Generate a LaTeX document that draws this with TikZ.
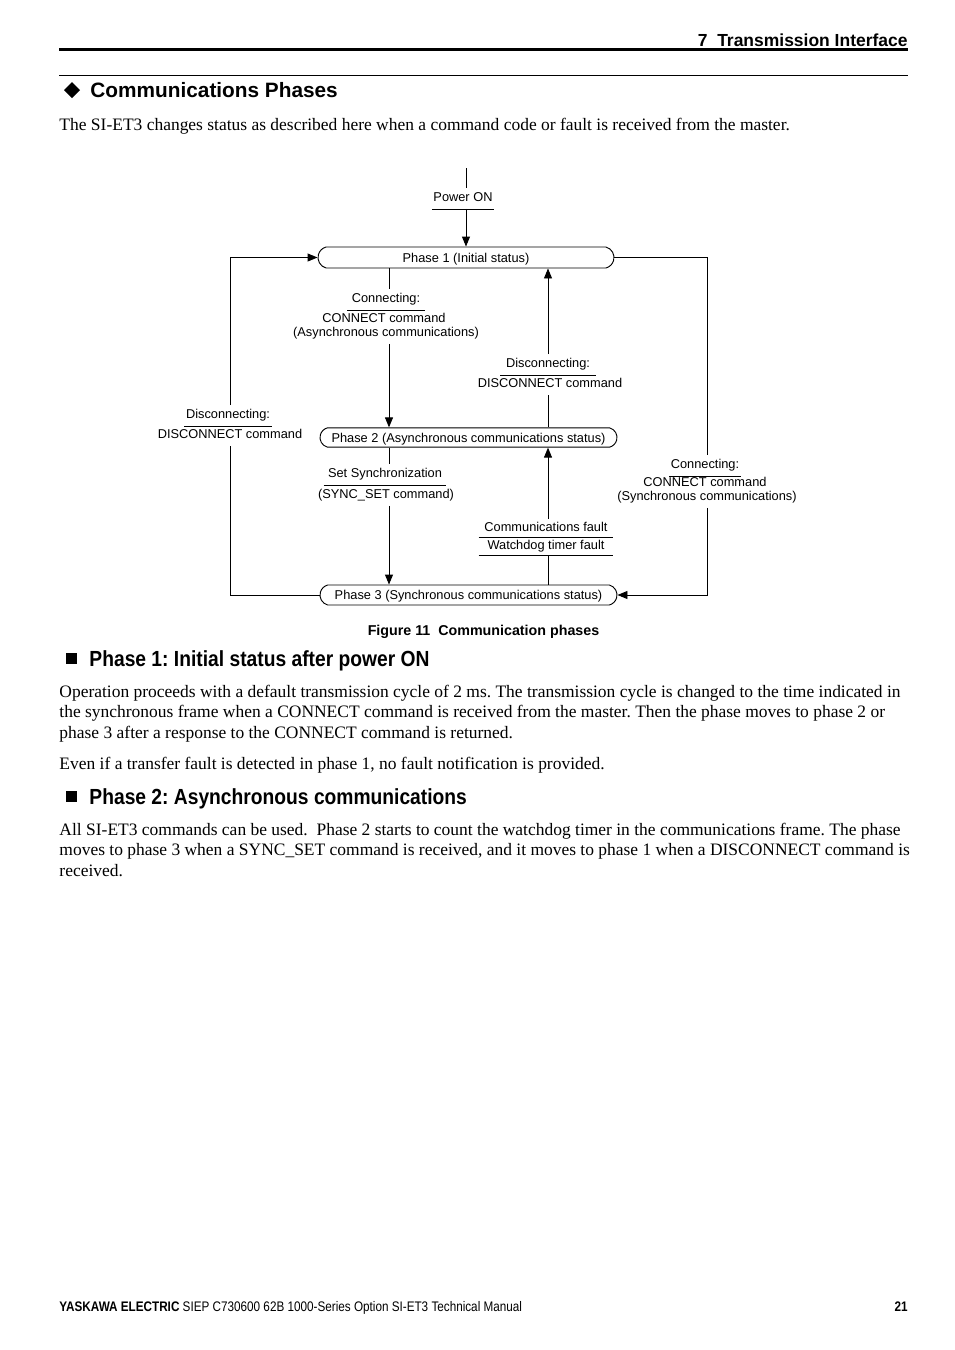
\documentclass[tikz,border=0pt]{standalone}
\usepackage{fontspec}
\setmainfont{Liberation Serif}
\setsansfont{Liberation Sans}
\newfontfamily\nsans[FakeStretch=0.88]{Liberation Sans}
\newfontfamily\fsans[FakeStretch=0.845]{Liberation Sans}
\usetikzlibrary{shapes.misc,arrows.meta}
\newcommand\dfont{\sffamily\fontsize{9.6}{11}\selectfont}
\newcommand\bodyfont{\rmfamily\fontsize{13.1}{15}\selectfont\frenchspacing}
\frenchspacing
\begin{document}
\begin{tikzpicture}[x=0.75pt,y=-0.75pt,line width=0.7pt,
  arr/.style={-{Triangle[length=7.5pt,width=6pt]}},
  phasebox/.style={draw, rounded rectangle, rounded rectangle arc length=150, inner sep=0pt, text height=8pt, text depth=1.1pt, font=\dfont},
  lbl/.style={inner xsep=0pt, inner ysep=3pt, text height=7pt, text depth=2pt, font=\dfont},
  ul/.style={lbl, inner xsep=#1},
  body/.style={anchor=base west, inner sep=0pt, font=\bodyfont},
  head/.style={anchor=base west, inner sep=0pt, font=\sffamily\bfseries\fontsize{15.6}{18}\selectfont},
  subhead/.style={anchor=base west, inner sep=0pt, font=\nsans\bfseries\fontsize{16.4}{18}\selectfont\frenchspacing},
  rulethin/.style={line width=0.75pt},
  rulethick/.style={line width=2.25pt},
]
\fill[white] (0,0) rectangle (954,1350);
\useasboundingbox (0,0) rectangle (954,1350);

% page header
\node[anchor=base east, inner sep=0pt, font=\sffamily\bfseries\fontsize{13.1}{15}\selectfont] (hdr) at (908,46) {7~ Transmission Interface};
\draw[rulethick] (59,49) -- (908,49);
\draw[rulethin] (59,75.5) -- (908,75.5);

% section heading
\fill (72,82) -- (80,90) -- (72,98) -- (64,90) -- cycle;
\node[head] (h1) at (90,97.5) {Communications Phases};
\node[body] (t0) at (59,130.5) {The SI-ET3 changes status as described here when a command code or fault is received from the master.};

% ---------- diagram ----------
\node[phasebox, minimum width=222pt, minimum height=15.75pt] (p1) at (466,257.5) {Phase 1 (Initial status)};
\node[phasebox, minimum width=222.75pt, minimum height=14.5pt] (p2) at (468.5,437.5) {Phase 2 (Asynchronous communications status)};
\node[phasebox, minimum width=222.75pt, minimum height=15pt] (p3) at (468.5,595) {Phase 3 (Synchronous communications status)};

\coordinate (pwr) at (466,168);
\coordinate (xa) at (389,0);
\coordinate (xb) at (548,0);
\coordinate (xl) at (230,0);
\coordinate (xr) at (707,0);

\node[ul=0.4pt] (pw) at (463,198.5) {Power ON};

\node[ul=3pt] (c1a) at (386,299.5) {Connecting:};
\node[lbl] (c1b) at (384,319.5) {CONNECT command};
\node[lbl] (c1c) at (386,333.5) {(Asynchronous communications)};

\node[ul=4.1pt] (d1a) at (548,364.5) {Disconnecting:};
\node[lbl] (d1b) at (550,384.5) {DISCONNECT command};

\node[ul=1pt] (dla) at (228,415.5) {Disconnecting:};
\node[lbl] (dlb) at (230,435.5) {DISCONNECT command};

\node[ul=3pt] (ss) at (385,474.5) {Set Synchronization};
\node[lbl] (ssb) at (386,495.5) {(SYNC\_SET command)};

\node[lbl, inner ysep=2pt, minimum width=100.5pt] (cf) at (546,528.3) {Communications fault};
\node[lbl, inner ysep=2pt, minimum width=100.5pt] (wd) at (546,546) {Watchdog timer fault};

\node[ul=1pt] (cra) at (705,465.5) {Connecting:};
\node[lbl] (crb) at (705,483.5) {CONNECT command};
\node[lbl] (crc) at (707,497.5) {(Synchronous communications)};

\foreach \n in {pw,c1a,d1a,dla,ss,cf,wd,cra}
  \draw[line width=0.6pt] (\n.south west) -- (\n.south east);

\draw (pwr) -- (pwr |- pw.north);
\draw[arr] (pwr |- pw.south) -- (pwr |- p1.north);
\draw (xa |- p1.south) -- (xa |- c1a.north);
\draw[arr] (xa |- c1c.south) -- (xa |- p2.north);
\draw (xb |- p2.north) -- (xb |- d1b.south);
\draw[arr] (xb |- d1a.north) -- (xb |- p1.south);
\draw (xa |- p2.south) -- (xa |- ss.north);
\draw[arr] (xa |- ssb.south) -- (xa |- p3.north);
\draw (xb |- p3.north) -- (xb |- wd.south);
\draw[arr] (xb |- cf.north) -- (xb |- p2.south);
\draw (p3.west) -- (xl |- p3.west) -- (xl |- dlb.south);
\draw[arr] (xl |- dla.north) -- (xl |- p1.west) -- (p1.west);
\draw (p1.east) -- (xr |- p1.east) -- (xr |- cra.north);
\draw[arr] (xr |- crc.south) -- (xr |- p3.east) -- (p3.east);

\node[anchor=base, inner sep=0pt, font=\sffamily\bfseries\fontsize{10.7}{12}\selectfont] (cap) at (483.5,635) {Figure 11~ Communication phases};

% ---------- Phase 1 text ----------
\fill (66,653) rectangle (77,664);
\node[subhead] (s1) at (89,666) {Phase 1: Initial status after power ON};
\node[body] (a1) at (59,697) {Operation proceeds with a default transmission cycle of 2 ms. The transmission cycle is changed to the time indicated in};
\node[body] (a2) at (59,717.5) {the synchronous frame when a CONNECT command is received from the master. Then the phase moves to phase 2 or};
\node[body] (a3) at (59,738) {phase 3 after a response to the CONNECT command is returned.};
\node[body] (a4) at (59,769) {Even if a transfer fault is detected in phase 1, no fault notification is provided.};

% ---------- Phase 2 text ----------
\fill (66,791) rectangle (77,802);
\node[subhead] (s2) at (89,804) {Phase 2: Asynchronous communications};
\node[body] (b1) at (59,835) {All SI-ET3 commands can be used.~ Phase 2 starts to count the watchdog timer in the communications frame. The phase};
\node[body] (b2) at (59,855.5) {moves to phase 3 when a SYNC\_SET command is received, and it moves to phase 1 when a DISCONNECT command is};
\node[body] (b3) at (59,876) {received.};

% ---------- footer ----------
\node[anchor=base west, inner sep=0pt, font=\fsans\fontsize{10.4}{12}\selectfont] (ft) at (59,1311) {\bfseries YASKAWA ELECTRIC\mdseries\ SIEP C730600 62B 1000-Series Option SI-ET3 Technical Manual};
\node[anchor=base east, inner sep=0pt, font=\fsans\bfseries\fontsize{10.4}{12}\selectfont] (pg) at (908,1311) {21};
\end{tikzpicture}
\end{document}
